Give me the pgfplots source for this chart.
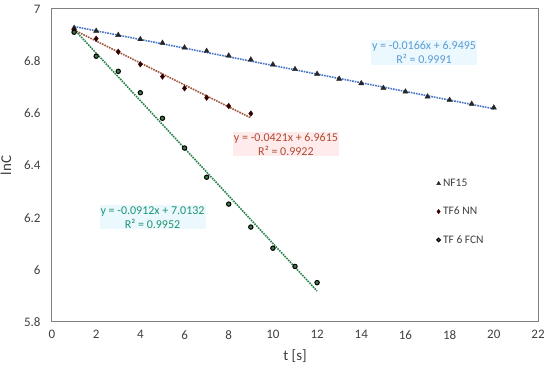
\documentclass[border=0pt]{standalone}
\usepackage{pgfplots}
\pgfplotsset{compat=1.18}
\usepackage{fontspec}
\setmainfont{Carlito}
\definecolor{axgray}{RGB}{128,128,128}
\definecolor{tickgray}{RGB}{64,64,64}
\definecolor{nfblue}{RGB}{68,114,196}
\definecolor{nftext}{RGB}{91,155,213}
\definecolor{nnred}{RGB}{160,85,60}
\definecolor{nntext}{RGB}{175,75,50}
\definecolor{fcngreen}{RGB}{40,130,75}
\definecolor{fcntext}{RGB}{30,150,110}
\definecolor{fcnfill}{RGB}{60,120,75}
\pgfplotsset{
  legmark/.style={legend image code/.code={\draw[##1, mark size=#1] plot coordinates {(0cm,0cm)};}}
}
\begin{document}
\begin{tikzpicture}[x=1pt,y=1pt]
\useasboundingbox (-52,-47) rectangle (498,322);
\begin{axis}[
  at={(0,0)}, anchor=south west,
  scale only axis, width=486pt, height=313pt,
  xmin=0, xmax=22, ymin=5.8, ymax=7,
  xtick={0,2,...,22}, ytick={5.8,6,6.2,6.4,6.6,6.8,7},
  yticklabels={5.8,6,6.2,6.4,6.6,6.8,7},
  /pgf/number format/assume math mode=true,
  tick style={draw=none},
  axis line style={draw=axgray, line width=1pt},
  ticklabel style={font=\fontsize{13}{13}\selectfont, text=tickgray},
  xticklabel style={yshift=-5pt},
  yticklabel style={xshift=-8pt},
  xlabel={t [s]}, ylabel={lnC},
  xlabel style={font=\fontsize{15}{15}\selectfont, text=tickgray, yshift=-3pt},
  ylabel style={font=\fontsize{15}{15}\selectfont, text=tickgray, yshift=6pt},
  legend style={draw=none, fill=none, at={(0.785,0.47)}, anchor=north west,
    font=\fontsize{11.5}{11.5}\selectfont, text=tickgray, row sep=15pt,
    nodes={inner xsep=2.5pt}},
  legend cell align=left,
  clip=false,
]
% trendlines
\addplot[nfblue, densely dotted, line width=1.6pt, forget plot] coordinates {(1,6.9329) (20,6.6175)};
\addplot[nnred, densely dotted, line width=1.6pt, forget plot] coordinates {(1,6.9194) (9,6.5826)};
\addplot[fcngreen, densely dotted, line width=1.6pt, forget plot] coordinates {(1,6.9220) (12,5.9188)};
% data
\addplot[only marks, mark=triangle*, mark size=3pt, mark options={fill=black!85, draw=black!85},
  legmark=2.2pt] coordinates {
(1,6.927) (2,6.916) (3,6.900) (4,6.884) (5,6.870) (6,6.852) (7,6.839) (8,6.821) (9,6.806) (10,6.787)
(11,6.769) (12,6.751) (13,6.732) (14,6.715) (15,6.697) (16,6.683) (17,6.664) (18,6.651) (19,6.636) (20,6.622)};
\addlegendentry{NF15}
\addplot[only marks, mark=diamond*, mark size=2.8pt, mark options={fill=black!80!red, draw=black!80!red},
  legmark=2.2pt] coordinates {
(1,6.918) (2,6.886) (3,6.836) (4,6.788) (5,6.741) (6,6.696) (7,6.660) (8,6.628) (9,6.599)};
\addlegendentry{TF6 NN}
\addplot[only marks, mark=*, mark size=2.2pt, mark options={fill=fcnfill, draw=black, line width=1pt},
  legmark=1.8pt] coordinates {
(1,6.911) (2,6.819) (3,6.761) (4,6.679) (5,6.581) (6,6.467) (7,6.355) (8,6.252) (9,6.164) (10,6.083) (11,6.013) (12,5.951)};
\addlegendentry{TF 6 FCN}
% equation labels
\node[font=\fontsize{12}{14}\selectfont, text=nftext, fill=cyan!8, inner sep=1pt, align=center] at (axis cs:16.84,6.833) {y = -0.0166x + 6.9495\\R² = 0.9991};
\node[font=\fontsize{12}{14}\selectfont, text=nntext, fill=red!8, inner sep=1pt, align=center] at (axis cs:10.59,6.481) {y = -0.0421x + 6.9615\\R² = 0.9922};
\node[font=\fontsize{12}{14}\selectfont, text=fcntext, fill=cyan!8, inner sep=1pt, align=center] at (axis cs:4.55,6.201) {y = -0.0912x + 7.0132\\R² = 0.9952};
\end{axis}
\end{tikzpicture}
\end{document}
